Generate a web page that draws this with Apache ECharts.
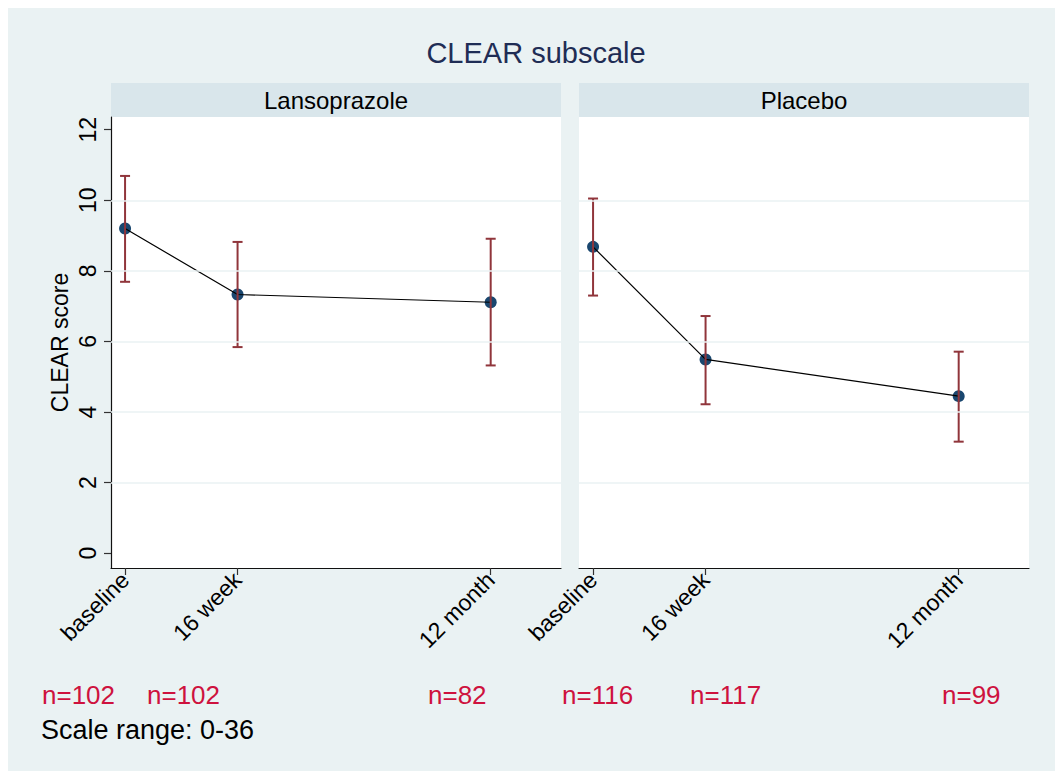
<!DOCTYPE html>
<html><head><meta charset="utf-8">
<script src="https://cdn.jsdelivr.net/npm/echarts@6/dist/echarts.min.js"></script>
<style>
html,body{margin:0;padding:0;background:#fff;}
#wrap{position:relative;width:1055px;height:771px;background:#fff;overflow:hidden;}
#c{position:absolute;left:8px;top:8px;width:1047px;height:763px;}
</style>
</head><body><div id="wrap"><div id="c"></div></div>
<script>
// ---- data ----
const panelNames = ['Lansoprazole', 'Placebo'];
const timeWeeks = [0, 16, 52];
const timeLabels = ['baseline', '16 week', '12 month'];
const lansoMean = [9.20, 7.33, 7.11];
const lansoLow = [7.69, 5.84, 5.32];
const lansoHigh = [10.69, 8.82, 8.91];
const placeboMean = [8.68, 5.49, 4.45];
const placeboLow = [7.30, 4.22, 3.16];
const placeboHigh = [10.05, 6.72, 5.71];
const yTickValues = [0, 2, 4, 6, 8, 10, 12];
const gridValues = [2, 4, 6, 8, 10];
const lansoN = [102, 102, 82];
const placeboN = [116, 117, 99];
const chartTitle = 'CLEAR subscale';
const yTitle = 'CLEAR score';
const noteText = 'Scale range: 0-36';

// ---- layout (page px, offset by the 8px white margin) ----
const OX = 8, OY = 8;
const FONT = "'Liberation Sans', Arial, Helvetica, sans-serif";
const panelLeft = [111, 579];
const panelWidth = 450;
const plotTop = 117, plotHeight = 451;
const stripTop = 83, stripH = 34;
const nLeftX = [[42, 147, 428], [562, 690, 942]];

const C_BG = '#EAF2F3', C_STRIP = '#D9E6EB', C_GRID = '#EAF2F3';
const C_MARK = '#1A476F', C_CI = '#90353B', C_N = '#CE123E', C_TITLE = '#1F2D55';

const means = [lansoMean, placeboMean];
const lows = [lansoLow, placeboLow];
const highs = [lansoHigh, placeboHigh];
const ns = [lansoN, placeboN];

function renderErr(params, api) {
  const x = api.value(0), lo = api.value(1), hi = api.value(2);
  const a = api.coord([x, lo]), b = api.coord([x, hi]);
  const hw = 5;
  const style = { stroke: C_CI, lineWidth: 2, fill: null };
  return {
    type: 'group', children: [
      { type: 'line', shape: { x1: a[0], y1: a[1], x2: b[0], y2: b[1] }, style },
      { type: 'line', shape: { x1: a[0] - hw, y1: a[1], x2: a[0] + hw, y2: a[1] }, style },
      { type: 'line', shape: { x1: b[0] - hw, y1: b[1], x2: b[0] + hw, y2: b[1] }, style }
    ]
  };
}

const grids = [], xAxes = [], yAxes = [], series = [], graphics = [];
panelNames.forEach((name, i) => {
  grids.push({ left: panelLeft[i] - OX, top: plotTop - OY, width: panelWidth, height: plotHeight,
    show: true, backgroundColor: '#fff', borderWidth: 0, containLabel: false });
  xAxes.push({
    type: 'value', gridIndex: i, min: -2, max: 62,
    axisLine: { show: true, onZero: false, lineStyle: { color: '#111', width: 1.2 } },
    axisTick: { show: true, customValues: timeWeeks, length: 7, lineStyle: { color: '#333', width: 1.2 } },
    axisLabel: { show: true, customValues: timeWeeks, rotate: 45, margin: 8, color: '#000',
      fontSize: 23, fontFamily: FONT,
      formatter: v => timeLabels[timeWeeks.indexOf(v)] || '' },
    splitLine: { show: false }
  });
  yAxes.push({
    type: 'value', gridIndex: i, min: -0.42, max: 12.36,
    show: i === 0,
    name: i === 0 ? yTitle : '', nameLocation: 'middle', nameGap: 40, nameRotate: 90,
    nameTextStyle: { color: '#000', fontSize: 23, fontFamily: FONT },
    axisLine: { show: i === 0, onZero: false, lineStyle: { color: '#111', width: 1.2 } },
    axisTick: { show: i === 0, customValues: yTickValues, length: 7, lineStyle: { color: '#333', width: 1.2 } },
    axisLabel: { show: i === 0, customValues: yTickValues, rotate: 90, margin: 12, color: '#000',
      fontSize: 23, fontFamily: FONT },
    splitLine: { show: false }
  });
  // gridlines
  series.push({
    type: 'line', xAxisIndex: i, yAxisIndex: i, data: timeWeeks.map((w, k) => [w, means[i][k]]),
    showSymbol: false, lineStyle: { opacity: 0 }, silent: true, z: 1,
    markLine: { silent: true, symbol: ['none', 'none'], label: { show: false },
      lineStyle: { color: C_GRID, width: 1.6, type: 'solid' },
      data: gridValues.map(v => ({ yAxis: v })) }
  });
  // markers
  series.push({
    type: 'scatter', xAxisIndex: i, yAxisIndex: i, symbol: 'circle', symbolSize: 12,
    itemStyle: { color: C_MARK, opacity: 1 }, z: 2,
    data: timeWeeks.map((w, k) => [w, means[i][k]])
  });
  // connecting line
  series.push({
    type: 'line', xAxisIndex: i, yAxisIndex: i, showSymbol: false, symbol: 'none',
    lineStyle: { color: '#000', width: 1.2 }, z: 3,
    data: timeWeeks.map((w, k) => [w, means[i][k]])
  });
  // CIs
  series.push({
    type: 'custom', xAxisIndex: i, yAxisIndex: i, renderItem: renderErr, z: 4,
    encode: { x: 0, y: [1, 2] },
    data: timeWeeks.map((w, k) => [w, lows[i][k], highs[i][k]])
  });
  // strip
  graphics.push({ type: 'rect', shape: { x: panelLeft[i] - OX, y: stripTop - OY, width: panelWidth, height: stripH },
    style: { fill: C_STRIP }, silent: true });
  graphics.push({ type: 'text', x: panelLeft[i] - OX + panelWidth / 2, y: stripTop - OY + stripH / 2,
    style: { text: name, fill: '#000', font: `24px ${FONT}`, textAlign: 'center', textVerticalAlign: 'middle' } });
  // n labels
  ns[i].forEach((n, k) => {
    graphics.push({ type: 'text', x: nLeftX[i][k] - OX, y: 695 - OY,
      style: { text: 'n=' + n, fill: C_N, font: `26px ${FONT}`, textAlign: 'left', textVerticalAlign: 'middle' } });
  });
});
graphics.push({ type: 'text', x: 536 - OX, y: 53 - OY,
  style: { text: chartTitle, fill: C_TITLE, font: `29px ${FONT}`, textAlign: 'center', textVerticalAlign: 'middle' } });
graphics.push({ type: 'text', x: 41 - OX, y: 730 - OY,
  style: { text: noteText, fill: '#000', font: `27px ${FONT}`, textAlign: 'left', textVerticalAlign: 'middle' } });

const chart = echarts.init(document.getElementById('c'), null, { renderer: 'svg' });
chart.setOption({
  backgroundColor: C_BG,
  animation: false,
  grid: grids, xAxis: xAxes, yAxis: yAxes, series: series,
  graphic: graphics
});
</script></body></html>
